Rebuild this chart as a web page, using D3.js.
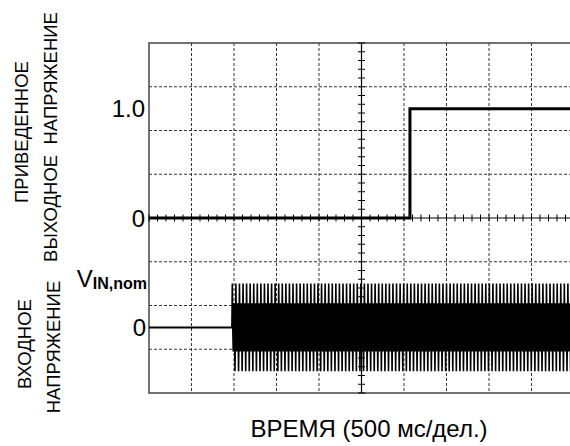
<!DOCTYPE html>
<html>
<head>
<meta charset="utf-8">
<script src="https://cdn.jsdelivr.net/npm/d3@7"></script>
<style>
  body { margin: 0; background: #fff; }
  text { font-family: "Liberation Sans", Arial, sans-serif; fill: #000; }
</style>
</head>
<body>
<script>
//time axis: 10 divisions of 500 ms
var timeGridMs = [0, 500, 1000, 1500, 2000, 2500, 3000, 3500, 4000, 4500, 5000];
//vertical divisions, 0 = centre line
var divGrid = [-4, -3, -2, -1, 0, 1, 2, 3, 4];

//normalised output voltage (step)
var outputTimeMs = [0, 3070, 3070, 5000];
var outputValue = [0, 0, 1, 1];

//input voltage: off, then an AC burst of amplitude V_IN,nom
var inputOffTimeMs = [0, 975];
var inputOffValue = [0, 0];
var inputStartMs = 975;
var inputEndMs = 5000;
//repeating pattern as the scope shows it (full peaks and smaller aliased peaks)
var inputPeriodMs = 42;
var inputCycleShape = [0, 1, 0, -0.55, 0, 0.55, 0, -1];

//tick labels
var outLabels = [{v: 1, t: "1.0"}, {v: 0, t: "0"}];
var inLabels = [{v: 0, t: "0"}];

var width = 570, height = 446;
var plotLeft = 149, plotRight = 574, plotTop = 43, plotBottom = 393;

var svg = d3.select("body").append("svg")
            .attr("width", width)
            .attr("height", height);

var x = d3.scaleLinear().domain([0, 5000]).range([plotLeft, plotRight]);
var yDiv = d3.scaleLinear().domain([-4, 4]).range([plotBottom, plotTop]);
//output panel: 0 on centre line, 1.0 = 2.5 div
var yOut = function(v){ return yDiv(v * 2.5); };
//input panel: 0 at -2.5 div, V_IN,nom = 1 div
var yIn = function(v){ return yDiv(-2.5 + v); };

//dashed grid
svg.append("g").selectAll("line")
   .data(timeGridMs.filter(function(d){ return d != 0 && d != 2500 && d != 5000; }))
   .enter().append("line")
   .attr("x1", function(d){ return x(d); })
   .attr("x2", function(d){ return x(d); })
   .attr("y1", plotTop).attr("y2", plotBottom)
   .attr("stroke", "#333").attr("stroke-width", 1)
   .attr("stroke-dasharray", "3,2");

svg.append("g").selectAll("line")
   .data(divGrid.filter(function(d){ return d != 0 && Math.abs(d) != 4; }))
   .enter().append("line")
   .attr("x1", plotLeft).attr("x2", plotRight)
   .attr("y1", function(d){ return yDiv(d); })
   .attr("y2", function(d){ return yDiv(d); })
   .attr("stroke", "#333").attr("stroke-width", 1)
   .attr("stroke-dasharray", "3,2");

//border
svg.append("path")
   .attr("d", "M" + plotRight + "," + plotTop + "H" + plotLeft + "V" + plotBottom + "H" + plotRight)
   .attr("fill", "none").attr("stroke", "#444").attr("stroke-width", 1.5);

//centre axes with minor ticks
svg.append("line").attr("x1", plotLeft).attr("x2", plotRight)
   .attr("y1", yDiv(0)).attr("y2", yDiv(0))
   .attr("stroke", "#000").attr("stroke-width", 1.2);
svg.append("line").attr("x1", x(2500)).attr("x2", x(2500))
   .attr("y1", plotTop).attr("y2", plotBottom)
   .attr("stroke", "#000").attr("stroke-width", 1.2);

var xMinor = d3.range(0, 5001, 100);
svg.append("g").selectAll("line").data(xMinor).enter().append("line")
   .attr("x1", function(d){ return x(d); }).attr("x2", function(d){ return x(d); })
   .attr("y1", yDiv(0) - 3.5).attr("y2", yDiv(0) + 3.5)
   .attr("stroke", "#000").attr("stroke-width", 1);
var yMinor = d3.range(-4, 4.01, 0.2);
svg.append("g").selectAll("line").data(yMinor).enter().append("line")
   .attr("x1", x(2500) - 3.5).attr("x2", x(2500) + 3.5)
   .attr("y1", function(d){ return yDiv(d); }).attr("y2", function(d){ return yDiv(d); })
   .attr("stroke", "#000").attr("stroke-width", 1);

//output trace
var outLine = d3.line()
   .x(function(d,i){ return x(outputTimeMs[i]); })
   .y(function(d){ return yOut(d); });
svg.append("path").datum(outputValue)
   .attr("d", outLine)
   .attr("fill", "none").attr("stroke", "#000").attr("stroke-width", 3);

//input trace: flat part then burst built by repeating one cycle
var inLine = d3.line()
   .x(function(d){ return x(d.t); })
   .y(function(d){ return yIn(d.v); });
var inputPts = [];
for(i=0;i<inputOffTimeMs.length;i++){
  inputPts.push({t: inputOffTimeMs[i], v: inputOffValue[i]});
}
var n = inputCycleShape.length;
for(c=0; inputStartMs + c*inputPeriodMs < inputEndMs; c++){
  for(k=0;k<n;k++){
    var t = inputStartMs + c*inputPeriodMs + k*inputPeriodMs/n;
    if(t <= inputEndMs) inputPts.push({t: t, v: inputCycleShape[k]});
  }
}
svg.append("path").datum(inputPts.slice(0, 2))
   .attr("d", inLine)
   .attr("fill", "none").attr("stroke", "#000").attr("stroke-width", 2);
svg.append("path").datum(inputPts.slice(1))
   .attr("d", inLine)
   .attr("fill", "none").attr("stroke", "#000").attr("stroke-width", 1.6);

//value labels
svg.append("g").selectAll("text").data(outLabels).enter().append("text")
   .attr("x", 145).attr("y", function(d){ return yOut(d.v); })
   .attr("dy", "0.36em").attr("text-anchor", "end")
   .attr("font-size", 24).text(function(d){ return d.t; });
svg.append("g").selectAll("text").data(inLabels).enter().append("text")
   .attr("x", 146).attr("y", function(d){ return yIn(d.v); })
   .attr("dy", "0.36em").attr("text-anchor", "end")
   .attr("font-size", 24).text(function(d){ return d.t; });

var vnom = svg.append("text")
   .attr("x", 147).attr("y", yIn(1) + 3)
   .attr("text-anchor", "end").attr("font-size", 24);
vnom.append("tspan").text("V");
vnom.append("tspan").attr("dy", 2).attr("font-size", 16).attr("font-weight", "bold").text("IN,nom");

//rotated axis titles
function vtitle(lines, cy, xs){
  for(j=0;j<lines.length;j++){
    svg.append("text")
       .attr("transform", "translate(" + xs[j] + "," + cy[j] + ") rotate(-90)")
       .attr("text-anchor", "middle").attr("font-size", 18.5)
       .attr("xml:space", "preserve")
       .text(lines[j]);
  }
}
vtitle(["ПРИВЕДЕННОЕ", "ВЫХОДНОЕ  НАПРЯЖЕНИЕ"], [132, 137], [28, 57]);
vtitle(["ВХОДНОЕ", "НАПРЯЖЕНИЕ"], [344, 347], [31, 60]);

//time axis title
svg.append("text")
   .attr("x", 369).attr("y", 437)
   .attr("text-anchor", "middle").attr("font-size", 24)
   .text("ВРЕМЯ (500 мс/дел.)");
</script>
</body>
</html>
